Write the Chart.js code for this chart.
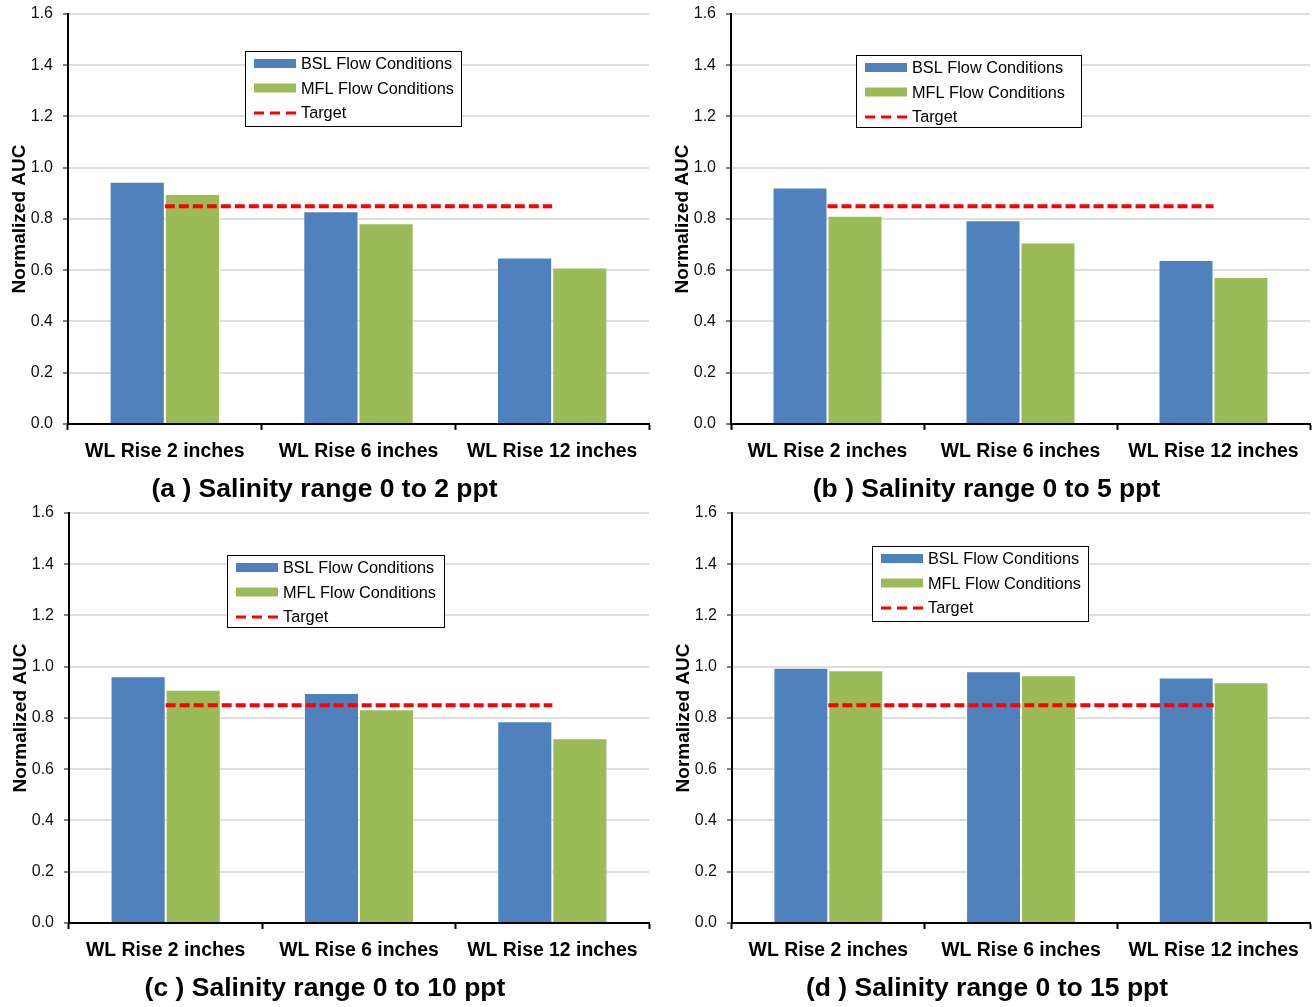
<!DOCTYPE html>
<html>
<head>
<meta charset="utf-8">
<script src="https://cdn.jsdelivr.net/npm/chart.js@4/dist/chart.umd.min.js"></script>
<style>
  html, body { margin: 0; padding: 0; background: #fff; }
  body { width: 1315px; height: 1007px; position: relative; overflow: hidden; }
  .panel { position: absolute; height: 506px; }
</style>
</head>
<body>
<div class="panel" style="left:0px;top:0px;width:657px"><canvas id="chart-a"></canvas></div>
<div class="panel" style="left:663px;top:0px;width:652px"><canvas id="chart-b"></canvas></div>
<div class="panel" style="left:1px;top:499px;width:656px"><canvas id="chart-c"></canvas></div>
<div class="panel" style="left:664px;top:499px;width:651px"><canvas id="chart-d"></canvas></div>
<script>
const categories = ['WL Rise 2 inches', 'WL Rise 6 inches', 'WL Rise 12 inches']

// normalized AUC
const bslA = [0.945, 0.83, 0.65]
const mflA = [0.897, 0.783, 0.611]
const bslB = [0.923, 0.795, 0.64]
const mflB = [0.813, 0.708, 0.573]
const bslC = [0.963, 0.897, 0.787]
const mflC = [0.91, 0.834, 0.721]
const bslD = [0.996, 0.982, 0.958]
const mflD = [0.986, 0.967, 0.939]
const target = [0.85, 0.85, 0.85]

const yMin = 0
const yMax = 1.6
const yStep = 0.2

const FONT = '"Liberation Sans", Arial, sans-serif'

const boxLegend = {
  id: 'boxLegend',
  afterDraw(chart, args, opts) {
    const ctx = chart.ctx
    const { x, y, w, h } = opts
    ctx.save()
    ctx.fillStyle = '#fff'
    ctx.fillRect(x, y, w, h)
    ctx.strokeStyle = '#000'
    ctx.lineWidth = 1
    ctx.strokeRect(x + 0.5, y + 0.5, w, h)
    ctx.font = '16.3px ' + FONT
    ctx.textBaseline = 'middle'
    ctx.textAlign = 'left'
    chart.data.datasets.forEach((ds, i) => {
      const rowY = y + 13 + i * 24.5
      if (ds.type === 'line') {
        ctx.strokeStyle = ds.borderColor
        ctx.lineWidth = 3
        ctx.setLineDash([10, 6])
        ctx.beginPath()
        ctx.moveTo(x + 9, rowY)
        ctx.lineTo(x + 52, rowY)
        ctx.stroke()
        ctx.setLineDash([])
      } else {
        ctx.fillStyle = ds.backgroundColor
        ctx.fillRect(x + 9, rowY - 5, 42, 9)
      }
      ctx.fillStyle = '#000'
      ctx.fillText(ds.label, x + 56, rowY + 1)
    })
    ctx.restore()
  },
}

initChart('chart-a', '(a ) Salinity range 0 to 2 ppt', bslA, mflA, { x: 245, y: 51, w: 216, h: 75 }, 8)
initChart('chart-b', '(b ) Salinity range 0 to 5 ppt', bslB, mflB, { x: 193, y: 55, w: 225, h: 72 }, 5)
initChart('chart-c', '(c ) Salinity range 0 to 10 ppt', bslC, mflC, { x: 226, y: 56, w: 217, h: 72 }, 8)
initChart('chart-d', '(d ) Salinity range 0 to 15 ppt', bslD, mflD, { x: 208, y: 47, w: 216, h: 75 }, 5)

/**
 * Draws one panel
 * @param {string} id canvas id
 * @param {string} title panel caption
 * @param {number[]} bsl BSL flow values
 * @param {number[]} mfl MFL flow values
 * @param {{x:number;y:number;w:number;h:number}} legendBox legend placement
 * @param {number} padRight right padding
 */
function initChart(id, title, bsl, mfl, legendBox, padRight) {
  const ctx = document.getElementById(id)

  new Chart(ctx, {
    type: 'bar',
    data: {
      labels: categories,
      datasets: [
        {
          label: 'BSL Flow Conditions',
          data: bsl,
          backgroundColor: '#4f81bd',
          borderColor: 'rgba(255,255,255,0.45)',
          borderWidth: 1,
          order: 1,
        },
        {
          label: 'MFL Flow Conditions',
          data: mfl,
          backgroundColor: '#9bbb59',
          borderColor: 'rgba(255,255,255,0.45)',
          borderWidth: 1,
          order: 1,
        },
        {
          type: 'line',
          label: 'Target',
          data: target,
          borderColor: '#ff0000',
          borderWidth: 4,
          borderDash: [10, 4],
          pointRadius: 0,
          fill: false,
          order: 0,
        },
      ],
    },
    options: {
      responsive: true,
      maintainAspectRatio: false,
      animation: false,
      categoryPercentage: 0.57,
      barPercentage: 1,
      layout: { padding: { top: 14, right: padRight, bottom: 0, left: 0 } },
      plugins: {
        legend: { display: false },
        tooltip: { enabled: false },
        title: {
          display: true,
          position: 'bottom',
          text: title,
          color: '#000',
          font: { family: FONT, size: 26.5, weight: 'bold' },
          padding: { top: 1, bottom: 0 },
        },
        boxLegend: legendBox,
      },
      scales: {
        x: {
          grid: {
            drawOnChartArea: false,
            tickLength: 6,
            tickColor: '#000',
            tickWidth: 2,
          },
          border: { color: '#000', width: 2 },
          ticks: {
            color: '#000',
            padding: 10,
            maxRotation: 0,
            autoSkip: false,
            font: { family: FONT, size: 19.4, weight: 'bold' },
          },
        },
        y: {
          min: yMin,
          max: yMax,
          afterFit: (scale) => {
            scale.width = 68
            scale.paddingTop = 0
            scale.paddingBottom = 0
          },
          grid: {
            color: '#dedede',
            lineWidth: 2,
            tickColor: '#000',
            tickLength: 5,
            tickWidth: 1,
          },
          border: { color: '#000', width: 2 },
          ticks: {
            stepSize: yStep,
            color: '#111',
            padding: 10,
            font: { family: FONT, size: 16 },
            callback: (v) => Number(v).toFixed(1),
          },
          title: {
            display: true,
            text: 'Normalized AUC',
            color: '#000',
            padding: { top: 8, bottom: 0 },
            font: { family: FONT, size: 19, weight: 'bold' },
          },
        },
      },
    },
    plugins: [boxLegend],
  })
}
</script>
</body>
</html>
